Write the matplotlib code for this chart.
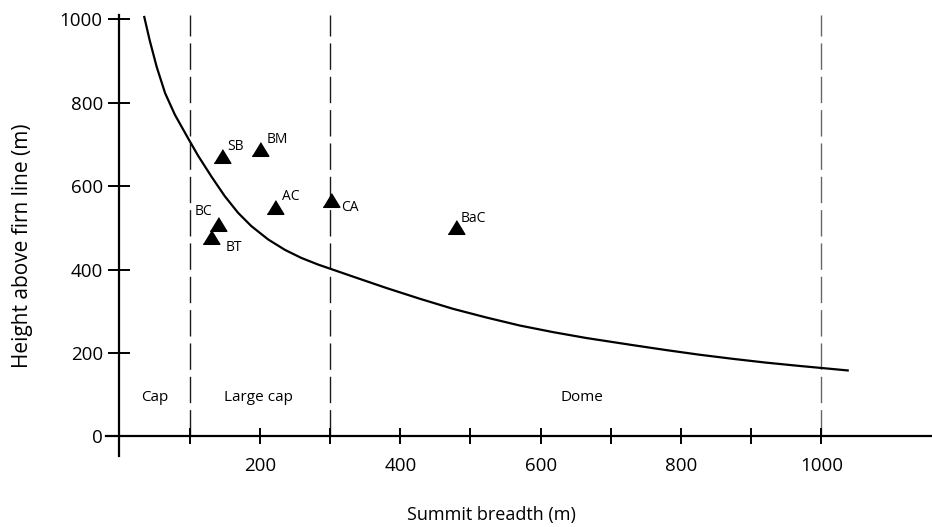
import matplotlib
matplotlib.use("Agg")
import matplotlib.pyplot as plt

plt.rcParams['font.family'] = ['Open Sans', 'DejaVu Sans']

# Curve
curve_x = [35, 43, 53, 65, 79, 98, 112, 131, 150, 169, 188, 212, 236, 259, 283, 302,
           333, 380, 428, 475, 523, 570, 618, 665, 731, 779, 826, 874, 921, 969, 1001, 1039]
curve_y = [1008, 950, 886, 823, 771, 714, 673, 623, 576, 536, 504, 472, 447, 428, 412, 401,
           383, 356, 330, 306, 285, 266, 250, 236, 219, 207, 196, 186, 177, 169, 164, 158]

# Sites
site_names = ['SB', 'BM', 'AC', 'CA', 'BC', 'BT', 'BaC']
site_x = [146, 200, 221, 301, 141, 131, 479]
site_y = [672, 688, 550, 567, 510, 478, 503]

# Class boundaries and region labels
boundaries = [100, 300, 1000]
region_names = ['Cap', 'Large cap', 'Dome']
region_x = [50, 198, 659]
region_y = [94, 94, 94]

x_ticks = [100, 200, 300, 400, 500, 600, 700, 800, 900, 1000]
x_labels = ['', '200', '', '400', '', '600', '', '800', '', '1000']
y_ticks = [0, 200, 400, 600, 800, 1000]

W, H = 932, 527
fig = plt.figure(figsize=(W / 100, H / 100), dpi=100)
ax = fig.add_axes([98.4 / W, (H - 461.5) / H, (W - 98.4) / W, (461.5 - 10.9) / H])
ax.set_xlim(-30, 1157.5)
ax.set_ylim(-60, 1020)

for s in ['top', 'right']:
    ax.spines[s].set_visible(False)
ax.spines['left'].set_position(('data', 0))
ax.spines['bottom'].set_position(('data', 0))
ax.spines['left'].set_bounds(-46, 1010)
ax.spines['bottom'].set_bounds(-19, 1157.5)
for s in ['left', 'bottom']:
    ax.spines[s].set_linewidth(1.6)
    ax.spines[s].set_color('black')

ax.set_xticks(x_ticks)
ax.set_xticklabels(x_labels)
ax.set_yticks(y_ticks)
ax.set_yticklabels([str(v) for v in y_ticks])
ax.tick_params(axis='x', direction='inout', length=11.5, width=1.4, pad=9, labelsize=13.5)
ax.tick_params(axis='y', direction='inout', length=16, width=1.4, pad=4, labelsize=13.5)

for b, c in zip(boundaries, ['#1a1a1a', '#1a1a1a', '#666666']):
    ax.plot([b, b], [0, 1010], color=c, lw=1.0, dashes=(19, 5), zorder=1)

ax.plot(curve_x, curve_y, color='black', lw=1.6, zorder=2,
        solid_capstyle='butt', solid_joinstyle='round')

tri = [(-1, -0.82), (1, -0.82), (0, 0.82)]
ax.plot(site_x, site_y, linestyle='none', marker=tri, markersize=12, color='black', zorder=3)

offsets = {'SB': (5, 10, 'left'), 'BM': (7, 10, 'left'), 'AC': (7, 10, 'left'),
           'CA': (10, -8, 'left'), 'BaC': (5, 8, 'left'), 'BC': (-6, 12, 'right'),
           'BT': (14, -10, 'left')}
for n, xv, yv in zip(site_names, site_x, site_y):
    dx, dy, ha = offsets[n]
    ax.annotate(n, (xv, yv), xytext=(dx, dy), textcoords='offset pixels',
                ha=ha, va='center', fontsize=10)

for n, xv, yv in zip(region_names, region_x, region_y):
    ax.text(xv, yv, n, ha='center', va='center', fontsize=11)

fig.text(22.5 / W, 1 - 246 / H, 'Height above firn line (m)', rotation=90,
         ha='center', va='center', fontsize=15)
fig.text(491 / W, 1 - 515 / H, 'Summit breadth (m)', ha='center', va='center', fontsize=13)

fig.savefig('out.png', dpi=100)
